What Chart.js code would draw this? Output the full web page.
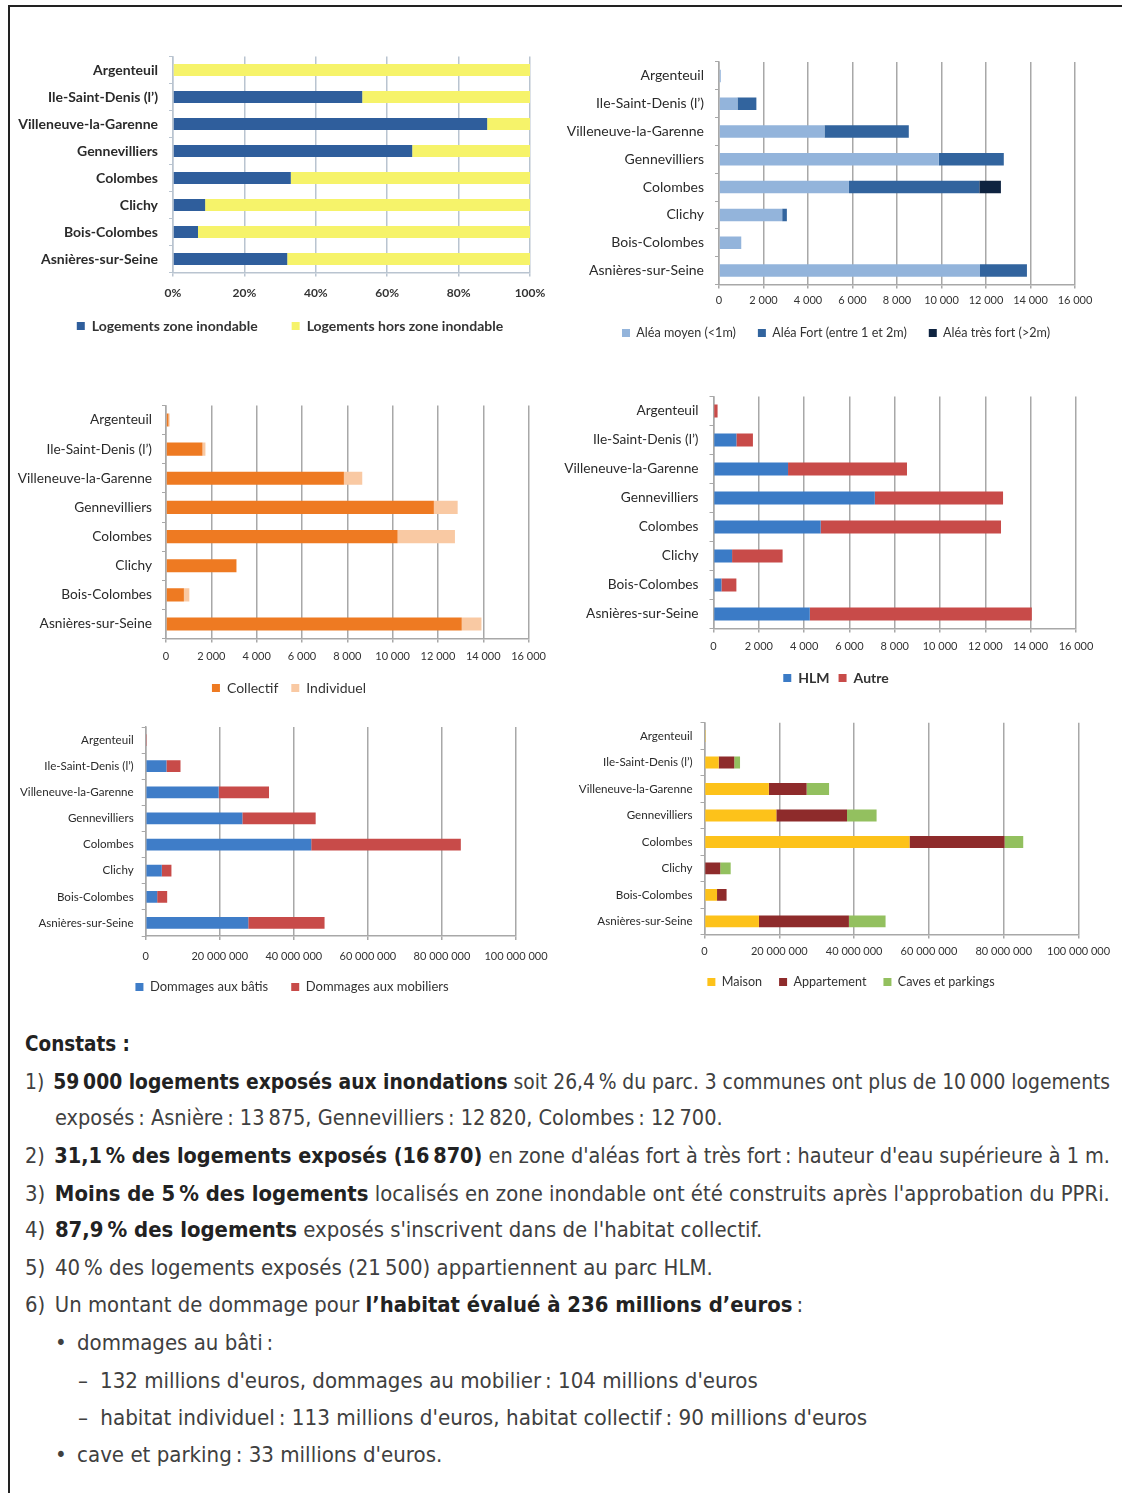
<!DOCTYPE html>
<html>
<head>
<meta charset="utf-8">
<script src="https://cdn.jsdelivr.net/npm/chart.js@4.4.1/dist/chart.umd.min.js"></script>
<style>
  html, body { margin: 0; padding: 0; background: #fff; width: 1122px; height: 1493px; overflow: hidden; }
  #frame { position: absolute; left: 8px; top: 5px; width: 1300px; height: 1700px; border-top: 2px solid #222; border-left: 2px solid #222; }
  canvas { position: absolute; }
  .ln { position: absolute; white-space: nowrap; font-family: "Liberation Sans Narrow", "DejaVu Sans Condensed", sans-serif;
        font-size: 22px; color: #404040; height: 38px; line-height: 38px; transform-origin: 0 50%; }
  .ln b { color: #222; }
  .num { display: inline-block; width: 30px; }
  .pu { display: inline-block; width: 22px; }
</style>
</head>
<body>
<div id="frame"></div>
<canvas id="c1"></canvas>
<canvas id="c2"></canvas>
<canvas id="c3"></canvas>
<canvas id="c4"></canvas>
<canvas id="c5"></canvas>
<canvas id="c6"></canvas>

<div class="ln" data-r="130" style="left:25px;top:1025px"><b>Constats :</b></div>
<div class="ln" data-r="1110" style="left:25px;top:1063px"><span class="num">1)</span><b>59&#8239;000 logements exposés aux inondations</b> soit 26,4&#8239;% du parc. 3 communes ont plus de 10&#8239;000 logements</div>
<div class="ln" data-r="723" style="left:55px;top:1099px">exposés&#8239;: Asnière&#8239;: 13&#8239;875, Gennevilliers&#8239;: 12&#8239;820, Colombes&#8239;: 12&#8239;700.</div>
<div class="ln" data-r="1110" style="left:25px;top:1137px"><span class="num">2)</span><b>31,1&#8239;% des logements exposés (16&#8239;870)</b> en zone d'aléas fort à très fort&#8239;: hauteur d'eau supérieure à 1 m.</div>
<div class="ln" data-r="1110" style="left:25px;top:1175px"><span class="num">3)</span><b>Moins de 5&#8239;% des logements</b> localisés en zone inondable ont été construits après l'approbation du PPRi.</div>
<div class="ln" data-r="762" style="left:25px;top:1211px"><span class="num">4)</span><b>87,9&#8239;% des logements</b> exposés s'inscrivent dans de l'habitat collectif.</div>
<div class="ln" data-r="713" style="left:25px;top:1249px"><span class="num">5)</span>40&#8239;% des logements exposés (21&#8239;500) appartiennent au parc HLM.</div>
<div class="ln" data-r="803" style="left:25px;top:1286px"><span class="num">6)</span>Un montant de dommage pour <b>l’habitat évalué à 236 millions d’euros</b>&#8239;:</div>
<div class="ln" data-r="273" style="left:55px;top:1324px"><span class="pu">•</span>dommages au bâti&#8239;:</div>
<div class="ln" data-r="758" style="left:78px;top:1362px"><span class="pu">–</span>132 millions d'euros, dommages au mobilier&#8239;: 104 millions d'euros</div>
<div class="ln" data-r="867" style="left:78px;top:1399px"><span class="pu">–</span>habitat individuel&#8239;: 113 millions d'euros, habitat collectif&#8239;: 90 millions d'euros</div>
<div class="ln" data-r="442" style="left:55px;top:1436px"><span class="pu">•</span>cave et parking&#8239;: 33 millions d'euros.</div>

<script>
// communes (même ordre pour les 6 graphiques)
const communes = ["Argenteuil", "Ile-Saint-Denis (l’)", "Villeneuve-la-Garenne", "Gennevilliers",
                  "Colombes", "Clichy", "Bois-Colombes", "Asnières-sur-Seine"];

// graphique 1 : part des logements (%)
const pctZoneInondable = [0, 53, 88, 67, 33, 9, 7, 32];
const pctHorsZone      = [100, 47, 12, 33, 67, 91, 93, 68];

// graphique 2 : logements par aléa
const aleaMoyen    = [80, 830, 4740, 9880, 5840, 2840, 1000, 11730];
const aleaFort     = [0, 850, 3790, 2920, 5860, 210, 0, 2110];
const aleaTresFort = [0, 0, 0, 0, 970, 0, 0, 0];

// graphique 3 : collectif / individuel
const collectif  = [110, 1610, 7850, 11820, 10220, 3100, 790, 13050];
const individuel = [50, 130, 810, 1050, 2530, 30, 240, 870];

// graphique 4 : HLM / autre
const hlm   = [0, 1010, 3290, 7120, 4730, 820, 350, 4250];
const autre = [180, 730, 5250, 5660, 7960, 2230, 660, 9800];

// graphique 5 : dommages (euros)
const dommBati     = [200000, 5600000, 19700000, 26100000, 44700000, 4350000, 3100000, 27700000];
const dommMobilier = [100000, 3800000, 13600000, 19800000, 40400000, 2600000, 2700000, 20600000];

// graphique 6 : dommages par type (euros)
const maison      = [300000, 3800000, 17200000, 19200000, 54800000, 0, 3350000, 14550000];
const appartement = [0, 4150000, 10100000, 18900000, 25400000, 4200000, 2550000, 24050000];
const caves       = [0, 1550000, 6000000, 7900000, 5000000, 2800000, 0, 9800000];

function fmt(v) {
  return String(v).replace(/\B(?=(\d{3})+(?!\d))/g, "\u00a0");
}

const FONT = "Lato, 'Open Sans', sans-serif";

function makeChart(id, g, datasets, xMax, xStep, tickFmt, st) {
  const tl = 4;
  const itemH = st.legSize;
  const xH = g.tickY + 9 - g.pb;               // hauteur de l'axe x (étiquettes comprises)
  const W = g.cr - g.cl;
  const H = Math.round(g.pb + xH + st.legGap + itemH + 10 - g.ct);
  const cv = document.getElementById(id);
  cv.width = W; cv.height = H;
  cv.style.left = g.cl + "px"; cv.style.top = g.ct + "px";
  cv.style.width = W + "px"; cv.style.height = H + "px";

  // replace la légende (centre horizontal et hauteur) comme sur l'original
  const legendPos = {
    id: "legendPos",
    afterLayout(chart) {
      const lg = chart.legend;
      const dy = (lg.top + st.legGap + itemH / 2) - (g.legY - g.ct);
      lg.top -= dy; lg.bottom -= dy;
      const dx = (st.legCx - g.cl) - (lg.left + lg.right) / 2;
      lg.left += dx; lg.right += dx;
    }
  };

  new Chart(cv, {
    type: "bar",
    data: { labels: communes, datasets: datasets.map(d => ({
      label: d.label, data: d.data, backgroundColor: d.color, borderWidth: 0,
      categoryPercentage: 0.9, barPercentage: 0.5
    })) },
    plugins: [legendPos],
    options: {
      indexAxis: "y",
      responsive: false,
      animation: false,
      devicePixelRatio: 1,
      layout: { padding: { top: g.pt - g.ct, right: g.cr - g.pr, left: 0, bottom: 0 } },
      plugins: {
        tooltip: { enabled: false },
        legend: {
          position: "bottom",
          labels: {
            boxWidth: 8, boxHeight: 8, padding: st.legGap, color: "#333",
            font: { family: FONT, size: st.legSize, weight: st.legWeight || "normal" }
          }
        }
      },
      scales: {
        x: {
          stacked: true, min: 0, max: xMax,
          afterFit(s) { s.height = xH; s.paddingLeft = 0; s.paddingRight = 0; },
          border: { display: true, color: st.grid, width: 1.5 },
          grid: { color: st.grid, lineWidth: 1.5, tickLength: tl, drawTicks: true },
          ticks: {
            stepSize: xStep, autoSkip: false, maxRotation: 0, color: "#333",
            padding: g.tickY - g.pb - tl - st.tickSize * 0.6,
            font: { family: FONT, size: st.tickSize, weight: st.tickWeight || "normal" },
            callback: v => tickFmt(v)
          }
        },
        y: {
          stacked: true,
          afterFit(s) { s.width = g.pl - g.cl; s.paddingTop = 0; s.paddingBottom = 0; },
          border: { display: true, color: st.grid, width: 1.5 },
          grid: { drawOnChartArea: false, color: st.grid, tickLength: tl, offset: true },
          ticks: {
            padding: st.yPad, color: "#2a2a2a", autoSkip: false,
            font: { family: FONT, size: st.ySize, weight: st.yWeight || "normal" }
          }
        }
      }
    }
  });
}

const gridGray = "#a8a8a8";

makeChart("c1",
  { cl: 10, cr: 552, ct: 40, pl: 173, pr: 530, pt: 56.5, pb: 272.5, tickY: 293, legY: 326 },
  [ { label: "Logements zone inondable", data: pctZoneInondable, color: "#2f5e9c" },
    { label: "Logements hors zone inondable", data: pctHorsZone, color: "#f6f36a" } ],
  100, 20, v => v + "%",
  { grid: "#b9c4d0", legSize: 14, legGap: 34, legCx: 290, legWeight: "bold", tickSize: 12, tickWeight: "bold",
    ySize: 14, yWeight: "bold", yPad: 11 });

makeChart("c2",
  { cl: 562, cr: 1112, ct: 40, pl: 719, pr: 1075, pt: 62, pb: 284, tickY: 300, legY: 333 },
  [ { label: "Aléa moyen (<1m)", data: aleaMoyen, color: "#93b4db" },
    { label: "Aléa Fort (entre 1 et 2m)", data: aleaFort, color: "#32649e" },
    { label: "Aléa très fort (>2m)", data: aleaTresFort, color: "#0e2340" } ],
  16000, 2000, fmt,
  { grid: gridGray, legSize: 12.6, legGap: 22, legCx: 836, tickSize: 11, ySize: 14, yPad: 11 });

makeChart("c3",
  { cl: 10, cr: 552, ct: 380, pl: 166, pr: 528.6, pt: 405.4, pb: 638.6, tickY: 656, legY: 688 },
  [ { label: "Collectif", data: collectif, color: "#ee7a22" },
    { label: "Individuel", data: individuel, color: "#f9c9a3" } ],
  16000, 2000, fmt,
  { grid: gridGray, legSize: 14, legGap: 13, legCx: 289, tickSize: 11, ySize: 13.7, yPad: 10 });

makeChart("c4",
  { cl: 562, cr: 1112, ct: 380, pl: 713.5, pr: 1076, pt: 396.5, pb: 628.5, tickY: 646, legY: 678 },
  [ { label: "HLM", data: hlm, color: "#3b7bc6" },
    { label: "Autre", data: autre, color: "#c84b49" } ],
  16000, 2000, fmt,
  { grid: gridGray, legSize: 14, legGap: 9, legCx: 836, legWeight: "bold", tickSize: 11, ySize: 13.7, yPad: 11 });

makeChart("c5",
  { cl: 10, cr: 562, ct: 715, pl: 145.7, pr: 516, pt: 727, pb: 936, tickY: 956, legY: 987 },
  [ { label: "Dommages aux bâtis", data: dommBati, color: "#3f7dc8" },
    { label: "Dommages aux mobiliers", data: dommMobilier, color: "#c84b49" } ],
  100000000, 20000000, fmt,
  { grid: gridGray, legSize: 13, legGap: 23, legCx: 292, tickSize: 11, ySize: 11.6, yPad: 8 });

makeChart("c6",
  { cl: 562, cr: 1116, ct: 710, pl: 704.5, pr: 1078.6, pt: 722.8, pb: 934.2, tickY: 951, legY: 982 },
  [ { label: "Maison", data: maison, color: "#fdc21a" },
    { label: "Appartement", data: appartement, color: "#8e2b2b" },
    { label: "Caves et parkings", data: caves, color: "#93c05f" } ],
  100000000, 20000000, fmt,
  { grid: gridGray, legSize: 12.6, legGap: 17, legCx: 851, tickSize: 11, ySize: 11.6, yPad: 8 });

// ajuste chaque ligne du texte à la largeur de l'original
document.querySelectorAll(".ln").forEach(el => {
  const left = parseFloat(el.style.left);
  const target = parseFloat(el.dataset.r) - left;
  const w = el.offsetWidth;
  if (w > 0) el.style.transform = "scaleX(" + (target / w).toFixed(4) + ")";
});
</script>
</body>
</html>
